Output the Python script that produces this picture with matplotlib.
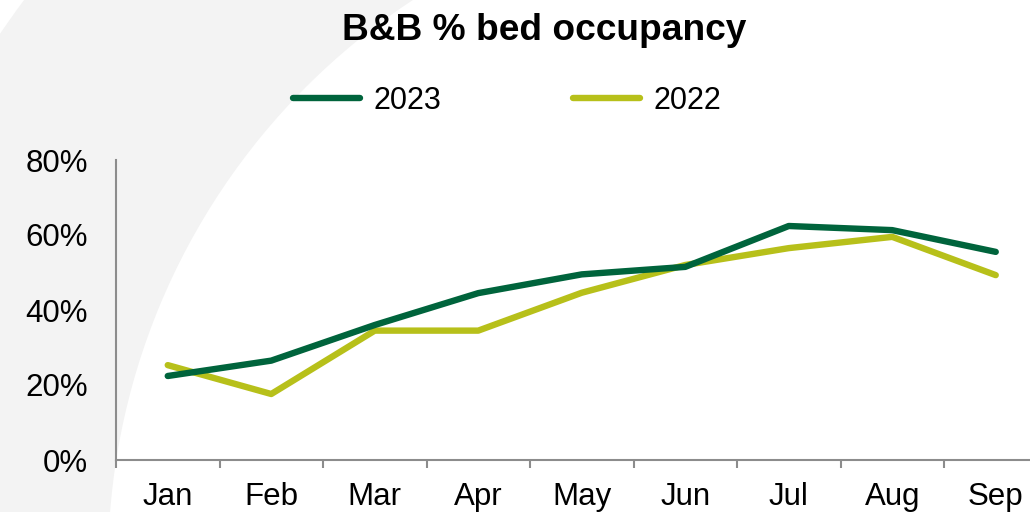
import matplotlib
matplotlib.use('Agg')
import matplotlib.pyplot as plt
from matplotlib.patches import Wedge

plt.rcParams['font.family'] = ['Liberation Sans', 'DejaVu Sans']

months = ['Jan', 'Feb', 'Mar', 'Apr', 'May', 'Jun', 'Jul', 'Aug', 'Sep']
occ_2023 = [0.224, 0.265, 0.36, 0.445, 0.495, 0.515, 0.624, 0.613, 0.555]
occ_2022 = [0.253, 0.176, 0.345, 0.345, 0.446, 0.52, 0.565, 0.595, 0.493]
yticks = [0, 0.2, 0.4, 0.6, 0.8]

GREEN = '#00643C'
LIME = '#B7C01A'
GRID = '#8C8C8C'

W, H = 1030, 512
fig = plt.figure(figsize=(W / 100, H / 100), dpi=100)

# decorative grey arc in the background
bg = fig.add_axes([0, 0, 1, 1])
bg.set_xlim(0, W)
bg.set_ylim(H, 0)
bg.axis('off')
bg.add_patch(Wedge((784, 565), 947, 0, 360, width=271, color='#F3F3F3', lw=0))

# plot area runs slightly past the right edge, as in the original
ax = fig.add_axes([116 / W, 52 / H, 931.5 / W, 300 / H])
ax.patch.set_alpha(0)
x = list(range(len(months)))
ax.plot(x, occ_2023, color=GREEN, lw=4.6, solid_capstyle='round', solid_joinstyle='round', label='2023', zorder=3)
ax.plot(x, occ_2022, color=LIME, lw=4.6, solid_capstyle='round', solid_joinstyle='round', label='2022', zorder=2)

ax.set_xlim(-0.5, len(months) - 0.5)
ax.set_ylim(0, 0.8)
ax.set_yticks(yticks)
ax.set_yticklabels([f'{int(v * 100)}%' for v in yticks])
ax.tick_params(axis='y', length=0, pad=20, labelsize=22.5, labelcolor='black')

ax.set_xticks([i - 0.5 for i in range(len(months) + 1)])
ax.set_xticklabels([])
ax.set_xticks(x, minor=True)
ax.set_xticklabels(months, minor=True)
ax.tick_params(axis='x', which='major', length=6, width=1.5, color=GRID, direction='out')
ax.tick_params(axis='x', which='minor', length=0, pad=15.5, labelsize=22.5, labelcolor='black')

for s in ['top', 'right']:
    ax.spines[s].set_visible(False)
for s in ['left', 'bottom']:
    ax.spines[s].set_color(GRID)
    ax.spines[s].set_linewidth(1.5)

fig.text(544 / W, 1 - 31 / H, 'B&B % bed occupancy', ha='center', va='center',
         fontsize=26.7, fontweight='bold', color='black')

fig.legend(loc='center', bbox_to_anchor=(507 / W, 1 - 101 / H), ncol=2, frameon=False,
           fontsize=22, handlelength=2.2, handletextpad=0.45, columnspacing=4.3)

fig.savefig('out.png', dpi=100)
